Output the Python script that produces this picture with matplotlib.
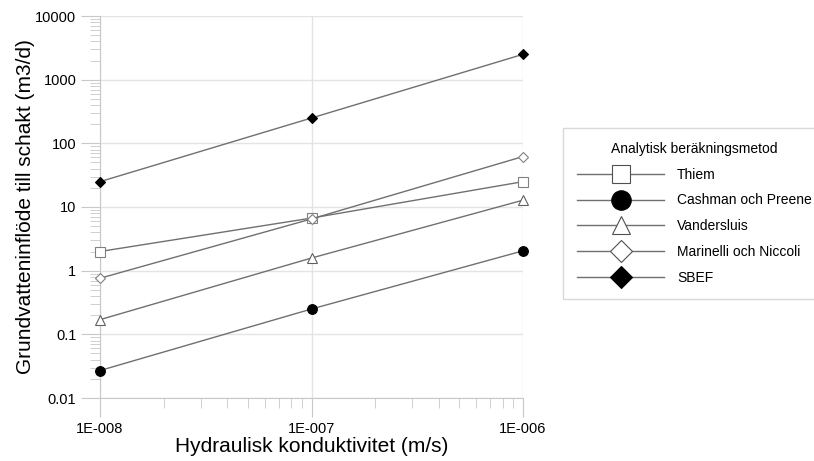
import numpy as np
import matplotlib
matplotlib.use("Agg")
import matplotlib.pyplot as plt
from matplotlib.lines import Line2D
from matplotlib.ticker import FixedLocator, FuncFormatter, LogLocator, NullFormatter

plt.rcParams['font.family'] = ['Liberation Sans', 'DejaVu Sans']

# data
k_values = [1e-8, 1e-7, 1e-6]
thiem = [2.0, 6.7, 25]
cashman = [0.027, 0.25, 2.05]
vandersluis = [0.17, 1.58, 12.8]
marinelli = [0.76, 6.5, 62]
sbef = [25, 250, 2500]
series_names = ["Thiem", "Cashman och Preene", "Vandersluis", "Marinelli och Niccoli", "SBEF"]
x_ticklabels = ["1E-008", "1E-007", "1E-006"]
y_ticks = [0.01, 0.1, 1, 10, 100, 1000, 10000]

line_col = '#707070'
grid_col = '#e4e4e4'
axis_col = '#c8c8c8'

# marker style per series: (marker, facecolor, edgecolor)
styles = [('s', 'white', '#808080'),
          ('o', 'black', 'black'),
          ('^', 'white', '#606060'),
          ('D', 'white', '#808080'),
          ('D', 'black', 'black')]
plot_sizes = [6.5, 7, 6.5, 5, 5]
legend_sizes = [13, 14, 13, 11, 11]

fig = plt.figure(figsize=(8.14, 4.61), dpi=100)
ax = fig.add_axes([100/814, 1-398/461, 423/814, 382/461])

all_series = [thiem, cashman, vandersluis, marinelli, sbef]
for vals, (m, fc, ec), ms in zip(all_series, styles, plot_sizes):
    ax.plot(k_values, vals, color=line_col, lw=1.0, marker=m, ms=ms,
            mfc=fc, mec=ec, mew=0.8, zorder=3, clip_on=False)

ax.set_xscale('log')
ax.set_yscale('log')
ax.set_xlim(1e-8, 1e-6)
ax.set_ylim(0.01, 10000)

ax.xaxis.set_major_locator(FixedLocator(k_values))
ax.xaxis.set_major_formatter(FuncFormatter(lambda v, p: x_ticklabels[int(round(np.log10(v))) + 8]))
ax.xaxis.set_minor_locator(LogLocator(base=10, subs=np.arange(2, 10), numticks=20))
ax.xaxis.set_minor_formatter(NullFormatter())

ax.yaxis.set_major_locator(FixedLocator(y_ticks))
ax.yaxis.set_major_formatter(FuncFormatter(lambda v, p: ('%g' % v) if v < 1 else '%d' % v))
ax.yaxis.set_minor_locator(LogLocator(base=10, subs=np.arange(2, 10), numticks=20))
ax.yaxis.set_minor_formatter(NullFormatter())

ax.grid(True, which='major', color=grid_col, lw=1.0, zorder=0)
for s in ['top', 'right']:
    ax.spines[s].set_visible(False)
for s in ['left', 'bottom']:
    ax.spines[s].set_color(axis_col)
ax.tick_params(which='major', length=14, color=axis_col, labelsize=10.5, pad=3)
ax.tick_params(which='minor', length=7, color=axis_col)

ax.set_xlabel("Hydraulisk konduktivitet (m/s)", fontsize=15, labelpad=1)
ax.set_ylabel("Grundvatteninflöde till schakt (m3/d)", fontsize=15, labelpad=0)

handles = [Line2D([0], [0], color=line_col, lw=1.0, marker=m, ms=ms, mfc=fc, mec='black' if fc == 'black' else '#505050', mew=0.8)
           for (m, fc, ec), ms in zip(styles, legend_sizes)]
leg = fig.legend(handles, series_names, title="Analytisk beräkningsmetod",
                 loc='upper left', bbox_to_anchor=(563/814, 1-128/461),
                 fontsize=10, title_fontsize=10, handlelength=6.3, handletextpad=0.9,
                 labelspacing=0.85, borderpad=1.0, frameon=True, fancybox=False,
                 borderaxespad=0)
leg.get_frame().set_edgecolor('#d0d0d0')
leg.get_frame().set_linewidth(1.0)

fig.savefig("out.png", dpi=100)
